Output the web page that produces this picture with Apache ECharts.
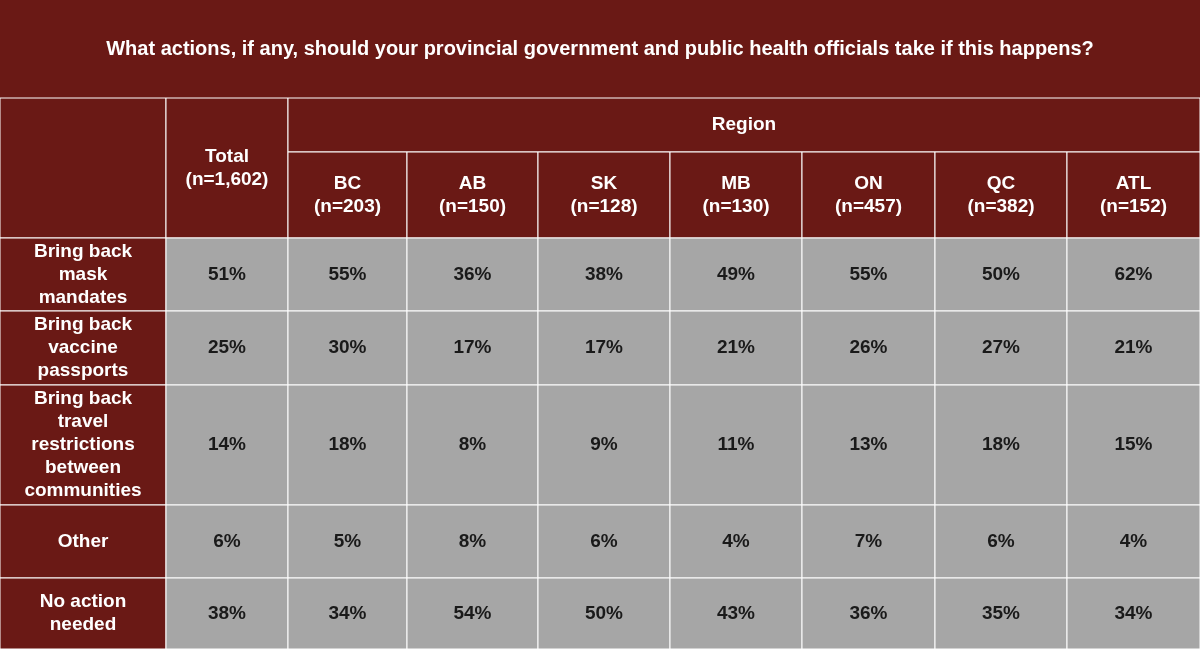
<!DOCTYPE html>
<html><head><meta charset="utf-8">
<script src="https://cdn.jsdelivr.net/npm/echarts@6/dist/echarts.min.js"></script>
<style>html,body{margin:0;padding:0;background:#6a1915}#c{width:1200px;height:649px}</style>
</head><body><div id="c"></div>
<script>
var title = 'What actions, if any, should your provincial government and public health officials take if this happens?';
var columns = ['Total\n(n=1,602)', 'BC\n(n=203)', 'AB\n(n=150)', 'SK\n(n=128)', 'MB\n(n=130)', 'ON\n(n=457)', 'QC\n(n=382)', 'ATL\n(n=152)'];
var rowLabels = ['Bring back\nmask\nmandates', 'Bring back\nvaccine\npassports', 'Bring back\ntravel\nrestrictions\nbetween\ncommunities', 'Other', 'No action\nneeded'];
var total = [51, 25, 14, 6, 38];
var bc = [55, 30, 18, 5, 34];
var ab = [36, 17, 8, 8, 54];
var sk = [38, 17, 9, 6, 50];
var mb = [49, 21, 11, 4, 43];
var on = [55, 26, 13, 7, 36];
var qc = [50, 27, 18, 6, 35];
var atl = [62, 21, 15, 4, 34];
var series = [total, bc, ab, sk, mb, on, qc, atl];

// layout
var colEdges = [0, 166, 288, 407, 538, 670, 802, 935, 1067, 1200];
var rowEdges = [238, 311, 385, 505, 578, 649];
var RED = '#6a1915', GREY = '#a6a6a6';

var cells = [];
cells.push([0, 1200, 0, 98, title, RED, '#fff', 0, 20]);
cells.push([0, 166, 98, 238, '', RED, '#fff', 1, 19]);
cells.push([166, 288, 98, 238, columns[0], RED, '#fff', 1, 19]);
cells.push([288, 1200, 98, 152, 'Region', RED, '#fff', 1, 19]);
for (var c = 1; c < columns.length; c++) {
  cells.push([colEdges[c + 1], colEdges[c + 2], 152, 238, columns[c], RED, '#fff', 1, 19]);
}
for (var r = 0; r < rowLabels.length; r++) {
  cells.push([0, 166, rowEdges[r], rowEdges[r + 1], rowLabels[r], RED, '#fff', 1, 19]);
  for (var k = 0; k < series.length; k++) {
    cells.push([colEdges[k + 1], colEdges[k + 2], rowEdges[r], rowEdges[r + 1], series[k][r] + '%', GREY, '#1a1a1a', 1, 19]);
  }
}

var chart = echarts.init(document.getElementById('c'));
chart.setOption({
  animation: false,
  grid: {left: 0, right: 0, top: 0, bottom: 0},
  xAxis: {type: 'value', min: 0, max: 1200, show: false},
  yAxis: {type: 'value', min: 0, max: 649, inverse: true, show: false},
  series: [{
    type: 'custom',
    data: cells,
    renderItem: function (params, api) {
      var d = cells[params.dataIndex];
      var p0 = api.coord([d[0], d[2]]), p1 = api.coord([d[1], d[3]]);
      return {
        type: 'rect',
        shape: {x: p0[0], y: p0[1], width: p1[0] - p0[0], height: p1[1] - p0[1]},
        style: {fill: d[5], stroke: d[7] ? '#ffffff' : d[5], lineWidth: d[7] ? 1 : 0},
        textContent: {
          style: {
            text: d[4], fill: d[6], fontFamily: 'Liberation Sans, Arial, sans-serif',
            fontWeight: 'bold', fontSize: d[8], lineHeight: 23, align: 'center', verticalAlign: 'middle'
          }
        },
        textConfig: {position: 'inside'}
      };
    }
  }]
});
</script></body></html>
